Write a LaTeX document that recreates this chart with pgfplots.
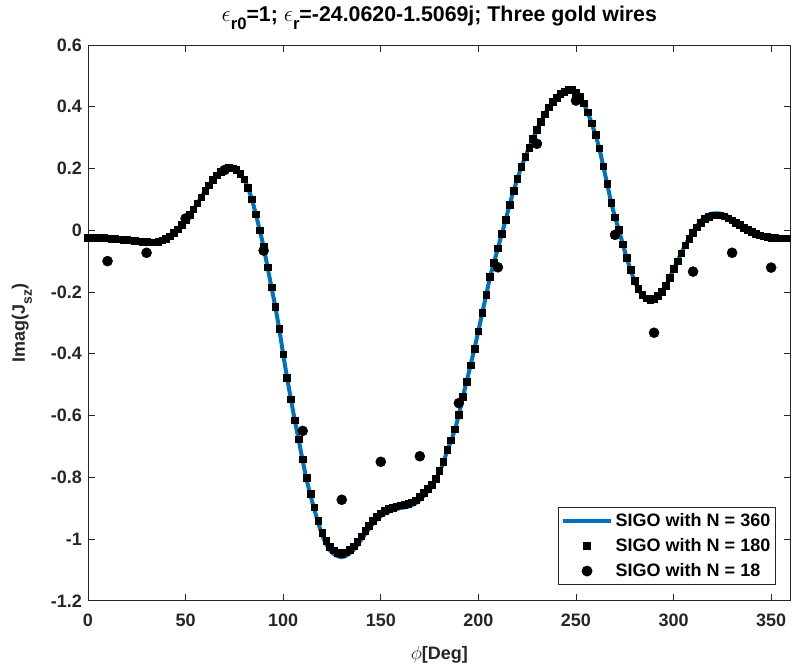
\documentclass[border=0pt]{standalone}
\usepackage{fontspec}
\setmainfont{Liberation Sans}
\usepackage{pgfplots}
\usepackage{pgfplotstable}
\pgfplotsset{compat=1.18}

\definecolor{mblue}{rgb}{0,0.447,0.741}
\definecolor{axgray}{rgb}{0.15,0.15,0.15}

\pgfplotsset{
  linelegend/.style={legend image code/.code={\draw[##1] (0pt,0pt) -- (36pt,0pt);}},
  marklegend/.style={legend image code/.code={\draw[##1] plot coordinates {(18pt,0pt)};}},
}

% phi [deg], SIGO N=180 samples, SIGO N=360 curve
\pgfplotstableread{
phi  nsq    nline
0   -0.025 -0.020
2   -0.025 -0.020
4   -0.025 -0.020
6   -0.025 -0.020
8   -0.025 -0.021
10  -0.026 -0.022
12  -0.027 -0.023
14  -0.028 -0.024
16  -0.029 -0.026
18  -0.030 -0.028
20  -0.031 -0.030
22  -0.033 -0.032
24  -0.035 -0.034
26  -0.036 -0.036
28  -0.037 -0.037
30  -0.038 -0.038
32  -0.039 -0.039
34  -0.039 -0.039
36  -0.037 -0.037
38  -0.033 -0.033
40  -0.027 -0.027
42  -0.019 -0.019
44  -0.009 -0.009
46   0.003  0.003
48   0.017  0.017
50   0.033  0.033
52   0.050  0.050
54   0.068  0.068
56   0.087  0.087
58   0.107  0.107
60   0.127  0.127
62   0.146  0.146
64   0.163  0.163
66   0.178  0.178
68   0.190  0.190
70   0.198  0.198
72   0.202  0.202
74   0.201  0.201
76   0.195  0.195
78   0.183  0.183
80   0.165  0.165
82   0.138  0.138
84   0.100  0.100
86   0.052  0.052
88   0.000  0.000
90  -0.054 -0.054
92  -0.120 -0.120
94  -0.185 -0.185
96  -0.248 -0.248
98  -0.320 -0.320
100 -0.402 -0.402
102 -0.477 -0.478
104 -0.547 -0.549
106 -0.615 -0.618
108 -0.677 -0.681
110 -0.742 -0.747
112 -0.802 -0.808
114 -0.853 -0.860
116 -0.897 -0.905
118 -0.940 -0.949
120 -0.980 -0.989
122 -1.006 -1.016
124 -1.026 -1.037
126 -1.037 -1.049
128 -1.044 -1.056
130 -1.047 -1.059
132 -1.043 -1.055
134 -1.035 -1.047
136 -1.024 -1.036
138 -1.008 -1.020
140 -0.991 -1.002
142 -0.974 -0.985
144 -0.957 -0.967
146 -0.940 -0.950
148 -0.927 -0.936
150 -0.917 -0.926
152 -0.909 -0.918
154 -0.903 -0.912
156 -0.898 -0.907
158 -0.894 -0.903
160 -0.891 -0.900
162 -0.889 -0.898
164 -0.886 -0.895
166 -0.881 -0.890
168 -0.875 -0.884
170 -0.864 -0.873
172 -0.851 -0.860
174 -0.838 -0.846
176 -0.825 -0.832
178 -0.805 -0.811
180 -0.779 -0.784
182 -0.750 -0.754
184 -0.712 -0.715
186 -0.680 -0.682
188 -0.645 -0.646
190 -0.598 -0.598
192 -0.540 -0.540
194 -0.490 -0.490
196 -0.437 -0.437
198 -0.383 -0.383
200 -0.327 -0.327
202 -0.268 -0.268
204 -0.210 -0.210
206 -0.150 -0.150
208 -0.105 -0.105
210 -0.058 -0.058
212 -0.012 -0.012
214  0.033  0.033
216  0.083  0.083
218  0.127  0.127
220  0.167  0.167
222  0.205  0.205
224  0.237  0.237
226  0.268  0.268
228  0.297  0.297
230  0.326  0.326
232  0.352  0.352
234  0.376  0.376
236  0.398  0.398
238  0.416  0.416
240  0.430  0.430
242  0.441  0.441
244  0.449  0.449
246  0.454  0.454
248  0.454  0.454
250  0.445  0.445
252  0.432  0.432
254  0.411  0.411
256  0.382  0.382
258  0.347  0.347
260  0.310  0.310
262  0.265  0.265
264  0.207  0.207
266  0.150  0.150
268  0.090  0.090
270  0.042  0.042
272  0.001  0.001
274 -0.045 -0.045
276 -0.090 -0.090
278 -0.128 -0.129
280 -0.163 -0.165
282 -0.190 -0.193
284 -0.208 -0.212
286 -0.220 -0.224
288 -0.226 -0.230
290 -0.222 -0.226
292 -0.212 -0.215
294 -0.200 -0.202
296 -0.180 -0.181
298 -0.153 -0.153
300 -0.125 -0.125
302 -0.101 -0.101
304 -0.075 -0.074
306 -0.049 -0.047
308 -0.028 -0.025
310 -0.008 -0.004
312  0.010  0.014
314  0.025  0.030
316  0.037  0.043
318  0.044  0.050
320  0.048  0.054
322  0.049  0.055
324  0.048  0.054
326  0.045  0.050
328  0.039  0.044
330  0.032  0.036
332  0.024  0.027
334  0.017  0.019
336  0.009  0.011
338  0.001  0.003
340 -0.006 -0.005
342 -0.011 -0.011
344 -0.016 -0.016
346 -0.020 -0.020
348 -0.022 -0.022
350 -0.024 -0.024
352 -0.025 -0.025
354 -0.026 -0.026
356 -0.026 -0.026
358 -0.026 -0.026
}\sigodata

% SIGO with N = 18
\pgfplotstableread{
phi val
10  -0.100
30  -0.073
50   0.038
70   0.195
90  -0.066
110 -0.650
130 -0.873
150 -0.750
170 -0.732
190 -0.560
210 -0.120
230  0.280
250  0.420
270 -0.015
290 -0.332
310 -0.134
330 -0.073
350 -0.121
}\sigocoarse

\newcommand{\sub}[1]{\raisebox{-0.38em}{\fontsize{10.5}{12}\selectfont #1}}
\newcommand{\tsub}[1]{\raisebox{-6.5pt}{\fontsize{12.5}{14}\selectfont #1}}

\begin{document}
\begin{tikzpicture}[font=\fontsize{13.5}{16}\selectfont\bfseries]
\begin{axis}[
  scale only axis,
  width=527pt, height=416.8pt,
  xmin=0, xmax=360, ymin=-1.2, ymax=0.6,
  xtick={0,50,...,350},
  ytick={-1.2,-1,-0.8,-0.6,-0.4,-0.2,0,0.2,0.4,0.6},
  yticklabels={-1.2,-1,-0.8,-0.6,-0.4,-0.2,0,0.2,0.4,0.6},
  xticklabels={0,50,100,150,200,250,300,350},
  tick align=inside,
  major tick length=5.25pt,
  every tick/.style={axgray, line width=0.6pt},
  axis line style={axgray, line width=0.6pt},
  tick label style={text=axgray},
  xticklabel style={yshift=-6.5pt},
  yticklabel style={xshift=-1pt},
  title={$\epsilon$\tsub{r0}=1; $\epsilon$\tsub{r}=-24.0620-1.5069j; Three gold wires},
  title style={at={(axis description cs:0.5,1.0285)}, anchor=base, text=black,
    font=\fontsize{16}{19}\selectfont\bfseries},
  xlabel={$\phi$[Deg]},
  xlabel style={at={(axis description cs:0.5,-0.105)}, anchor=base, text=axgray},
  ylabel={Imag(J\sub{sz})},
  ylabel style={at={(axis description cs:-0.0897,0.5)}, anchor=base, rotate=0, text=axgray},
  legend style={at={(1,0)}, anchor=south east, xshift=-11pt, yshift=11.8pt,
    draw=axgray, line width=0.6pt, fill=white,
    inner xsep=2pt, inner ysep=2.5pt, row sep=3.5pt,
    font=\fontsize{13.5}{16}\selectfont\bfseries},
  legend cell align=left,
]
\addplot[mblue, line width=3pt, linelegend]
  table[x=phi, y=nline] {\sigodata};
\addlegendentry{SIGO with N = 360}
\addplot[only marks, mark=square*, mark size=2.5pt, black, marklegend]
  table[x=phi, y=nsq] {\sigodata};
\addlegendentry{SIGO with N = 180}
\addplot[only marks, mark=*, mark size=3.75pt, black, marklegend]
  table[x=phi, y=val] {\sigocoarse};
\addlegendentry{SIGO with N = 18}
\end{axis}
\pgfresetboundingbox
\useasboundingbox ([xshift=-66pt,yshift=-51.2pt]current axis.south west) rectangle ([xshift=2.5pt,yshift=33.75pt]current axis.north east);
\end{tikzpicture}
\end{document}
